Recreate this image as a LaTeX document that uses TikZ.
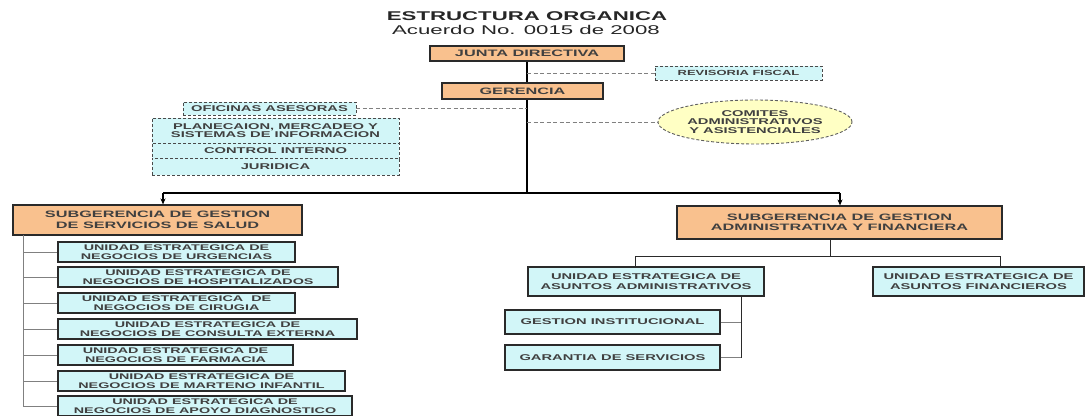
\documentclass[tikz,border=0pt]{standalone}
\usepackage{fontspec}
\usetikzlibrary{arrows.meta,shapes.geometric}
\newfontfamily\orgfont[FakeStretch=1.75]{Liberation Sans}
\definecolor{org}{HTML}{F9C18E}
\definecolor{cyanf}{HTML}{D2F6F8}
\definecolor{yel}{HTML}{FFFFC4}
\definecolor{txt}{HTML}{404040}
\definecolor{edge}{HTML}{2A2A2A}
\definecolor{gline}{HTML}{808080}
\newcommand{\fs}[2]{\orgfont\bfseries\fontsize{#1}{#2}\selectfont}
\tikzset{
  box/.style={draw=edge, line width=1.1pt, inner sep=0pt, align=center, text=txt},
  obox/.style={box, fill=org, font=\fs{9.3}{10.5}},
  ubox/.style={box, fill=cyanf, font=\fs{8.2}{9.2}},
  rbox/.style={box, fill=cyanf, font=\fs{8.4}{9.5}},
  dbox/.style={box, fill=cyanf, draw=edge!85, line width=0.9pt, dash pattern=on 3pt off 2pt, font=\fs{8.4}{8.6}},
  trunk/.style={draw=black, line width=1.2pt},
  tline/.style={draw=edge, line width=1pt},
  stub/.style={draw=gline, line width=0.9pt},
  dline/.style={draw=gline, line width=1pt, dash pattern=on 4pt off 2.5pt},
  arr/.style={trunk, -{Stealth[length=6pt,width=5pt]}}
}
\begin{document}
\begin{tikzpicture}[x=1pt,y=-1pt]
\useasboundingbox[fill=white] (0,0) rectangle (1086,415);
% titles
\node[font=\orgfont\bfseries\fontsize{12.7}{13}\selectfont, text=black!85, inner sep=0pt] (title) at (527,16) {ESTRUCTURA ORGANICA};
\node[font=\orgfont\fontsize{12.7}{13}\selectfont, text=black!85, inner sep=0pt] (sub) at (526,30) {Acuerdo No. 0015 de 2008};
% top
\node[obox, minimum width=194pt, minimum height=15pt] (junta) at (527,53.5) {JUNTA DIRECTIVA};
\node[obox, minimum width=161pt, minimum height=16pt] (ger) at (522.5,91) {GERENCIA};
\node[dbox, minimum width=167pt, minimum height=14pt, font=\fs{7.4}{8}] (rev) at (738.5,73) {REVISORIA FISCAL};
\node[dbox, minimum width=173pt, minimum height=13pt] (ases) at (269.5,108.5) {OFICINAS ASESORAS};
\node[dbox, minimum width=247pt, minimum height=25pt] (plan) at (275.5,130.5) {PLANECAION, MERCADEO Y\\SISTEMAS DE INFORMACION};
\node[dbox, minimum width=247pt, minimum height=15pt] (ctrl) at (275.5,150.5) {CONTROL INTERNO};
\node[dbox, minimum width=247pt, minimum height=17pt] (jur) at (275.5,166.5) {JURIDICA};
\node[ellipse, draw=edge!75, line width=0.9pt, dash pattern=on 3pt off 2pt, fill=yel, inner sep=0pt,
      minimum width=194pt, minimum height=44pt, align=center, text=txt, font=\fs{8.4}{8.2}] (com) at (755,122)
      {COMITES\\ADMINISTRATIVOS\\Y ASISTENCIALES};
% subgerencias
\node[obox, minimum width=289pt, minimum height=30pt] (salud) at (157.5,220) {SUBGERENCIA DE GESTION\\DE SERVICIOS DE SALUD};
\node[obox, minimum width=325pt, minimum height=33pt] (adm) at (839.5,222.5) {SUBGERENCIA DE GESTION\\ADMINISTRATIVA Y FINANCIERA};
% left units
\node[ubox, minimum width=237pt, minimum height=20pt] (u1) at (176.5,252) {UNIDAD ESTRATEGICA DE\\NEGOCIOS DE URGENCIAS};
\node[ubox, minimum width=280pt, minimum height=20pt] (u2) at (198,277) {UNIDAD ESTRATEGICA DE\\NEGOCIOS DE HOSPITALIZADOS};
\node[ubox, minimum width=237pt, minimum height=20pt] (u3) at (176.5,303) {UNIDAD ESTRATEGICA\ \ DE\\NEGOCIOS DE CIRUGIA};
\node[ubox, minimum width=299pt, minimum height=20pt] (u4) at (207.5,329) {UNIDAD ESTRATEGICA DE\\NEGOCIOS DE CONSULTA EXTERNA};
\node[ubox, minimum width=235pt, minimum height=20pt] (u5) at (175.5,355) {UNIDAD ESTRATEGICA DE\\NEGOCIOS DE FARMACIA};
\node[ubox, minimum width=287pt, minimum height=20pt] (u6) at (201.5,381) {UNIDAD ESTRATEGICA DE\\NEGOCIOS DE MARTENO INFANTIL};
\node[ubox, minimum width=294pt, minimum height=20pt] (u7) at (205,406) {UNIDAD ESTRATEGICA DE\\NEGOCIOS DE APOYO DIAGNOSTICO};
% right units
\node[rbox, minimum width=236pt, minimum height=29pt] (ua) at (646,281.5) {UNIDAD ESTRATEGICA DE\\ASUNTOS ADMINISTRATIVOS};
\node[rbox, minimum width=211pt, minimum height=29pt] (uf) at (978.5,281.5) {UNIDAD ESTRATEGICA DE\\ASUNTOS FINANCIEROS};
\node[rbox, minimum width=215pt, minimum height=24pt] (gest) at (612.5,322) {GESTION INSTITUCIONAL};
\node[rbox, minimum width=215pt, minimum height=25pt] (gar) at (612.5,357.5) {GARANTIA DE SERVICIOS};
% coordinates
\coordinate (bus) at (527,193);
\coordinate (busL) at (163,193);
\coordinate (busR) at (840,193);
\coordinate (lt) at (23,235);
\coordinate (lb) at (23,406);
\coordinate (ra) at (830,256);
\coordinate (rl) at (635,256);
\coordinate (rr) at (1000,256);
\coordinate (gv) at (741,357.5);
% connectors
\draw[trunk] (junta.south) -- (junta.south |- ger.north);
\draw[trunk] (junta.south |- ger.south) -- (bus);
\draw[dline] (junta.south |- rev.west) -- (rev.west);
\draw[dline] (ases.east) -- (ases.east -| bus);
\draw[dline] (com.west -| bus) -- (com.west);
\draw[trunk] (busL) -- (busR);
\draw[arr] (busL) -- (busL |- salud.north);
\draw[arr] (busR) -- (busR |- adm.north);
\draw[stub] (lt) -- (lb);
\foreach \u in {u1,u2,u3,u4,u5,u6,u7} \draw[stub] (\u.west -| lt) -- (\u.west);
\draw[tline] (adm.south -| ra) -- (ra);
\draw[tline] (rl) -- (rr);
\draw[tline] (rl) -- (rl |- ua.north);
\draw[tline] (rr) -- (rr |- uf.north);
\draw[tline] (ua.south -| gv) -- (gv);
\draw[stub] (gest.east) -- (gest.east -| gv);
\draw[stub] (gar.east) -- (gv);
\end{tikzpicture}
\end{document}
